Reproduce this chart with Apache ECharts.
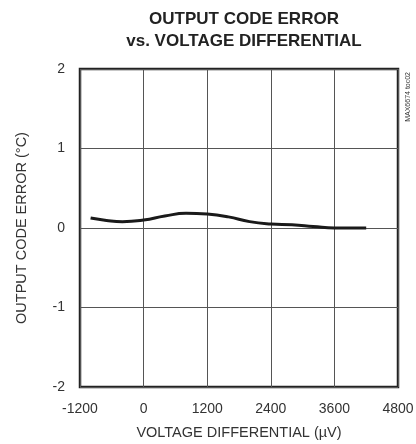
<!DOCTYPE html>
<html><head><meta charset="utf-8">
<script src="https://cdn.jsdelivr.net/npm/echarts@6/dist/echarts.min.js"></script>
<style>html,body{margin:0;padding:0;background:#fff}#c{width:416px;height:444px}</style>
</head><body><div id="c"></div>
<script>
const xValues = [-1000, -700, -400, 0, 400, 800, 1200, 1600, 2000, 2400, 2800, 3200, 3600, 4200];
const yValues = [0.125, 0.095, 0.08, 0.1, 0.15, 0.185, 0.175, 0.14, 0.08, 0.05, 0.04, 0.02, 0.0, 0.0];
const xTicks = [-1200, 0, 1200, 2400, 3600, 4800];
const yTicks = [-2, -1, 0, 1, 2];
const chart = echarts.init(document.getElementById('c'));
const font = '"Liberation Sans", Arial, sans-serif';
chart.setOption({
  animation: false,
  title: {
    text: 'OUTPUT CODE ERROR\nvs. VOLTAGE DIFFERENTIAL',
    left: 239, top: 3, textAlign: 'center',
    textStyle: {fontFamily: font, fontSize: 17, fontWeight: 'bold', color: '#222', lineHeight: 22}
  },
  grid: {left: 80, right: 18, top: 69, bottom: 57, show: true, borderColor: '#222', borderWidth: 2.5,
         containLabel: false, outerBoundsMode: 'none'},
  xAxis: {
    type: 'value', min: -1200, max: 4800, interval: 1200,
    name: 'VOLTAGE DIFFERENTIAL (µV)', nameLocation: 'middle', nameGap: 38,
    nameTextStyle: {fontFamily: font, fontSize: 14.5, color: '#333'},
    axisLine: {show: false}, axisTick: {show: false},
    axisLabel: {fontFamily: font, fontSize: 14, color: '#333', margin: 15, formatter: v => String(v)},
    splitLine: {show: true, lineStyle: {color: '#555', width: 1}}
  },
  yAxis: {
    type: 'value', min: -2, max: 2, interval: 1,
    name: 'OUTPUT CODE ERROR (°C)', nameLocation: 'middle', nameGap: 51, nameRotate: 90,
    nameTextStyle: {fontFamily: font, fontSize: 14.5, color: '#333'},
    axisLine: {show: false}, axisTick: {show: false},
    axisLabel: {fontFamily: font, fontSize: 14, color: '#333', margin: 15, formatter: v => String(v)},
    splitLine: {show: true, lineStyle: {color: '#555', width: 1}}
  },
  graphic: [{
    type: 'text', left: 405, top: 72, rotation: Math.PI / 2,
    style: {text: 'MAX6674 toc02', fontFamily: font, fontSize: 7, fill: '#333'}
  }],
  series: [{
    type: 'line', smooth: 0.5, symbol: 'none',
    data: xValues.map((x, i) => [x, yValues[i]]),
    lineStyle: {color: '#1a1a1a', width: 3}
  }]
});
</script></body></html>
